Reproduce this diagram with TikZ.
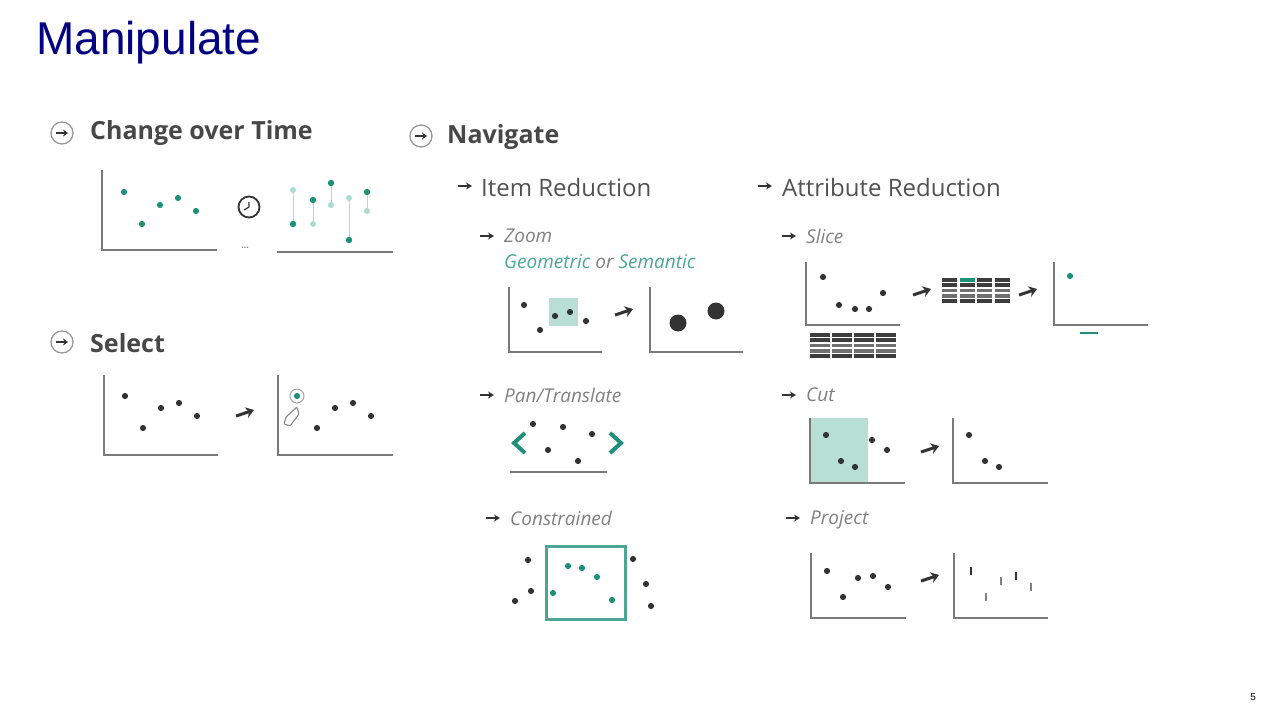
\documentclass[tikz,border=0pt]{standalone}
\usepackage{fontspec}
\setmainfont{Liberation Sans}
\newfontfamily\osans{Open Sans}
\usetikzlibrary{arrows.meta}
\definecolor{teal1}{HTML}{1E9079}
\definecolor{teal2}{HTML}{A9DCCF}
\definecolor{tealbg}{HTML}{B7DFD3}
\definecolor{ink}{HTML}{333333}
\definecolor{axisc}{HTML}{7A7A7A}
\definecolor{navy}{HTML}{000080}
\tikzset{
  x=1pt,y=-1pt,
  ax/.style={draw=axisc,line width=2.6pt},
  h1/.style={anchor=west,inner sep=0pt,text=ink!90,font=\osans\fontsize{25}{25}\selectfont\bfseries},
  h2/.style={anchor=west,inner sep=0pt,text=ink!85,font=\osans\fontsize{24}{24}\selectfont},
  h3/.style={anchor=west,inner sep=0pt,text=gray,font=\osans\fontsize{19}{19}\selectfont\itshape},
  harr/.style={-{Stealth[length=6pt,width=7pt]},line width=1.8pt,draw=ink},
  bigarr/.style={-{Stealth[length=8pt,width=11pt]},line width=3pt,draw=ink},
  circ/.style={circle,draw=gray!80,line width=1.3pt,minimum size=22pt,inner sep=0pt},
}
\newcommand{\pd}[3][ink]{\fill[#1] (#2,#3) circle (3.1pt);}
\newcommand{\axs}[4]{\draw[ax] (#1,#2) -- (#1,#4) -- (#3,#4);}
\newcommand{\bigar}[2]{\draw[bigarr] (#1-9,#2+3) -- (#1+9,#2-3);}
\newcommand{\hdr}[2]{\node[circ] at (#1,#2) {}; \draw[-{Stealth[length=5pt,width=7pt]},line width=1.8pt,ink] (#1-6,#2) -- (#1+6,#2);}
\newcommand{\sarr}[2]{\draw[harr] (#1-7,#2) -- (#1+7,#2);}
\newcommand{\tbl}[3]{%
  \foreach \c in {0,...,3}{\foreach \r/\cc in {0/95,1/95,2/70,3/70,4/95}{
    \fill[ink!\cc] (#1+\c*#3,#2+\r*5.3) rectangle ++(#3-2.5,3.6);}}}
\begin{document}
\begin{tikzpicture}
\useasboundingbox (0,0) rectangle (1280,720);
\node[anchor=west,inner sep=0pt,text=navy,font=\fontsize{46}{46}\selectfont] (title) at (36,43) {Manipulate};
\node[anchor=east,inner sep=0pt,font=\fontsize{10}{10}\selectfont] (pg) at (1256,697) {5};

% Change over time
\hdr{62}{133}
\node[h1] (cot) at (90,133) {Change over Time};
\axs{102}{170}{217}{250}
\pd[teal1]{124}{192}\pd[teal1]{142}{224}\pd[teal1]{160}{205}\pd[teal1]{178}{198}\pd[teal1]{196}{211}
\node[circle,draw=ink,line width=1.8pt,minimum size=21pt,inner sep=0pt] (clock) at (249,207) {};
\draw[ink,line width=1.2pt] (249,207) -- (249,202) (249,207) -- (244,210);
\node[inner sep=0pt,text=gray,font=\small\bfseries] (dots) at (245,248) {...};
\draw[ax] (277,252) -- (393,252);
\foreach \x/\a/\b in {293/224/190,313/200/224,331/183/205,349/240/198,367/192/211}{
  \draw[gray!40,line width=1pt] (\x,\a) -- (\x,\b);
  \fill[teal2] (\x,\b) circle (3pt);
  \fill[teal1] (\x,\a) circle (3.2pt);}

% Select
\hdr{62}{342}
\node[h1] (sel) at (90,343) {Select};
\axs{104}{375}{218}{455}
\pd{125}{396}\pd{143}{428}\pd{161}{408}\pd{179}{403}\pd{197}{416}
\bigar{245}{413}
\axs{278}{375}{393}{455}
\pd[teal1]{297}{396}\draw[gray!70,line width=1pt] (297,396) circle (7pt);
\pd{317}{428}\pd{335}{408}\pd{353}{403}\pd{371}{416}
\draw[gray,line width=1pt,rounded corners=1pt] (297,407) -- (286,417) -- (284,424) -- (290,426) -- (299,414) -- cycle;

% Navigate
\hdr{421}{136}
\node[h1] (nav) at (447,137) {Navigate};
\sarr{465}{186}\node[h2] (ir) at (481,187) {Item Reduction};
\sarr{765}{186}\node[h2] (ar) at (782,187) {Attribute Reduction};

% Zoom
\sarr{487}{236}\node[h3] (zoom) at (504,236) {Zoom};
\node[h3,text=teal1!80] (geo) at (504,262) {Geometric \textcolor{gray}{or} Semantic};
\fill[tealbg] (549,298) rectangle (578,326);
\axs{509}{287}{602}{352}
\pd{524}{305}\pd{540}{330}\pd{555}{316}\pd{570}{312}\pd{586}{321}
\bigar{624}{312}
\axs{650}{287}{743}{352}
\fill[ink] (678,323) circle (8.5pt);\fill[ink] (716,311) circle (8.5pt);

% Slice
\sarr{789}{236}\node[h3] (slice) at (806,236) {Slice};
\axs{806}{262}{900}{325}
\pd{823}{277}\pd{839}{305}\pd{855}{309}\pd{869}{309}\pd{883}{293}
\tbl{810}{333}{22}
\bigar{922}{292}
\tbl{942}{278}{17.5}
\fill[teal1] (960,278) rectangle ++(15,3.6);
\bigar{1028}{292}
\axs{1054}{262}{1148}{325}
\pd[teal1]{1070}{276}
\draw[teal1,line width=2.5pt] (1080,333) -- (1098,333);

% Pan
\sarr{487}{395}\node[h3] (pan) at (504,395) {Pan/Translate};
\pd{533}{424}\pd{563}{427}\pd{592}{434}\pd{548}{450}\pd{578}{461}
\draw[teal1,line width=4pt] (525,433) -- (514,443) -- (525,453);
\draw[teal1,line width=4pt] (610,433) -- (621,443) -- (610,453);
\draw[ax] (510,472) -- (607,472);

% Cut
\sarr{789}{395}\node[h3] (cut) at (806,395) {Cut};
\fill[tealbg] (810,418) rectangle (868,482);
\axs{810}{418}{905}{483}
\pd{826}{435}\pd{841}{461}\pd{855}{467}\pd{872}{440}\pd{887}{450}
\bigar{930}{449}
\axs{953}{418}{1048}{483}
\pd{969}{435}\pd{985}{461}\pd{999}{467}

% Constrained
\sarr{493}{518}\node[h3] (con) at (510,518) {Constrained};
\draw[teal1!80,line width=3pt] (546,546) rectangle (625,619);
\pd[teal1]{568}{566}\pd[teal1]{582}{568}\pd[teal1]{597}{577}\pd[teal1]{553}{593}\pd[teal1]{612}{600}
\pd{528}{560}\pd{531}{591}\pd{515}{601}\pd{633}{559}\pd{646}{584}\pd{651}{606}

% Project
\sarr{793}{518}\node[h3] (proj) at (810,520) {Project};
\axs{811}{553}{906}{618}
\pd{827}{571}\pd{843}{597}\pd{858}{578}\pd{873}{576}\pd{888}{587}
\bigar{930}{578}
\axs{954}{553}{1048}{618}
\foreach \x/\y/\c in {971/571/ink,986/597/gray,1001/581/gray,1016/576/ink,1031/587/gray}{
  \draw[\c,line width=1.8pt] (\x,\y-4) -- (\x,\y+4);}
\end{tikzpicture}
\end{document}
